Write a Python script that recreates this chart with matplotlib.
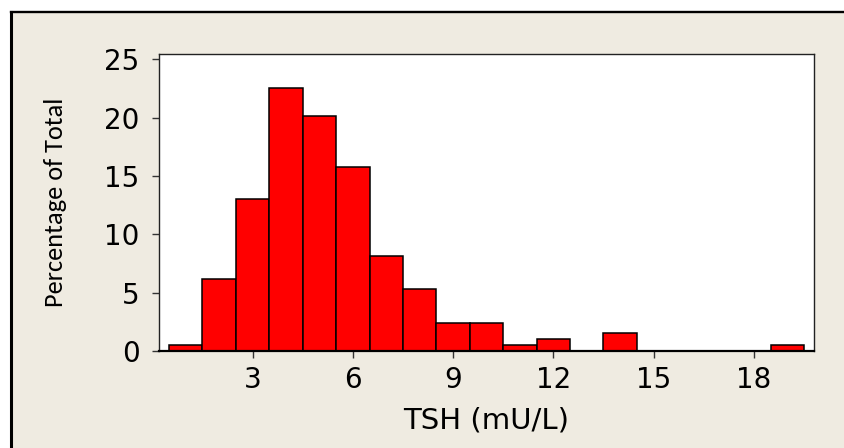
import matplotlib
matplotlib.use("Agg")
import matplotlib.pyplot as plt
from matplotlib.patches import Rectangle
from matplotlib.lines import Line2D
import numpy as np

# TSH histogram, bins of width 1 centred on integers
bin_centers = np.arange(1, 20)
percent = [0.5, 6.2, 13.0, 22.5, 20.1, 15.8, 8.1, 5.3, 2.4, 2.4,
           0.5, 1.0, 0.0, 1.5, 0.0, 0.0, 0.0, 0.0, 0.5]
xticks = [3, 6, 9, 12, 15, 18]
yticks = [0, 5, 10, 15, 20, 25]

bg = "#EFEBE1"
W, H = 845, 448

fig = plt.figure(figsize=(8.45, 4.48), dpi=100)
fig.patch.set_facecolor(bg)

# white margin outside the frame (top and left), black frame lines
x0, y0 = 10.7 / W, 1 - 12.2 / H
fig.patches.append(Rectangle((0, y0), 1.0, 1 - y0, transform=fig.transFigure,
                             facecolor="white", edgecolor="none", linewidth=0, zorder=-10))
fig.patches.append(Rectangle((0, 0), x0, 1.0, transform=fig.transFigure,
                             facecolor="white", edgecolor="none", linewidth=0, zorder=-10))
fig.lines.append(Line2D([x0, x0], [0, y0], transform=fig.transFigure,
                        color="black", linewidth=2.2))
fig.lines.append(Line2D([x0, 0.9995], [y0, y0], transform=fig.transFigure,
                        color="black", linewidth=1.7))

ax = fig.add_axes([159 / W, 1 - 351 / H, (814 - 159) / W, (351 - 54) / H])
ax.set_facecolor("white")

ax.bar(bin_centers, percent, width=1.0, color="#FF0000", edgecolor="black",
       linewidth=1.1, zorder=2)

ax.set_xlim(0.2, 19.8)
ax.set_ylim(0, 25.45)
ax.set_xticks(xticks)
ax.set_yticks(yticks)

for s in ax.spines.values():
    s.set_linewidth(1.0)
    s.set_color("#222222")
ax.spines["bottom"].set_linewidth(1.6)
ax.spines["bottom"].set_color("black")

ax.tick_params(axis="both", direction="out", length=5, width=1, color="#333333",
               labelsize=20)
ax.tick_params(axis="x", pad=6)
ax.tick_params(axis="y", pad=9)
ax.tick_params(top=False, right=False)
for lab in ax.get_xticklabels() + ax.get_yticklabels():
    lab.set_family("DejaVu Sans")

ax.set_xlabel("TSH (mU/L)", fontsize=21, family=["DejaVu Sans"])
ax.xaxis.set_label_coords(0.5, -(406 - 351) / 297)

ax.set_ylabel("Percentage of Total", fontsize=19, family=["Carlito", "DejaVu Sans"])
ax.yaxis.set_label_coords(-(159 - 55.5) / 655, 0.5)
ax.yaxis.label.set_va("center")

fig.savefig("out.png", dpi=100, facecolor=fig.get_facecolor())
